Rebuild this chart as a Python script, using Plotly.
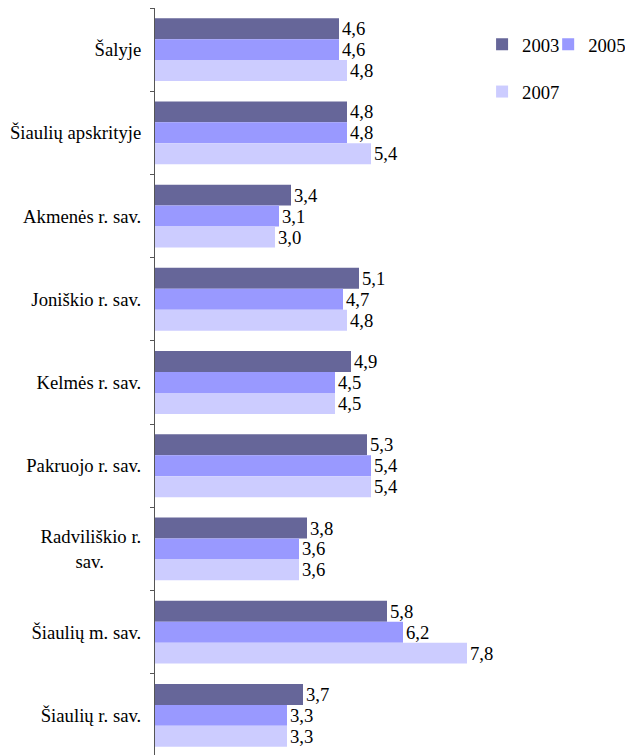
import plotly.graph_objects as go

categories = ["Šalyje", "Šiaulių apskrityje", "Akmenės r. sav.", "Joniškio r. sav.",
              "Kelmės r. sav.", "Pakruojo r. sav.", "Radviliškio r. sav.",
              "Šiaulių m. sav.", "Šiaulių r. sav."]
tick_labels = ["Šalyje", "Šiaulių apskrityje", "Akmenės r. sav.", "Joniškio r. sav.",
               "Kelmės r. sav.", "Pakruojo r. sav.",
               "Radviliškio r.<br>sav." + "\u00a0" * 8,
               "Šiaulių m. sav.", "Šiaulių r. sav."]
series_names = ["2003", "2005", "2007"]
v2003 = [4.6, 4.8, 3.4, 5.1, 4.9, 5.3, 3.8, 5.8, 3.7]
v2005 = [4.6, 4.8, 3.1, 4.7, 4.5, 5.4, 3.6, 6.2, 3.3]
v2007 = [4.8, 5.4, 3.0, 4.8, 4.5, 5.4, 3.6, 7.8, 3.3]
colors = ["#666699", "#9999FF", "#CCCCFF"]

FONT = "Liberation Serif"
FS = 18.7

fig = go.Figure()
for name, vals, col, lg in zip(series_names, [v2003, v2005, v2007], colors,
                               ["legend", "legend2", "legend3"]):
    fig.add_trace(go.Bar(
        y=categories, x=vals, name=name, orientation="h",
        marker=dict(color=col, line=dict(width=0)),
        text=[f"{v:.1f}".replace(".", ",") for v in vals],
        textposition="outside", constraintext="none",
        textfont=dict(color="black", size=FS, family=FONT),
        cliponaxis=False, legend=lg, showlegend=True,
    ))

W, H = 633, 755
ml, mt, mb = 147, 0, 6
leg_common = dict(orientation="h", xanchor="left", yanchor="middle",
                  font=dict(size=FS, family=FONT), bgcolor="rgba(0,0,0,0)")
fig.update_layout(
    width=W, height=H, showlegend=True,
    margin=dict(l=ml, r=0, t=mt, b=mb, autoexpand=False),
    barmode="group", bargap=0.245, bargroupgap=0,
    plot_bgcolor="white", paper_bgcolor="white",
    font=dict(family=FONT, size=FS, color="black"),
    xaxis=dict(range=[0, (W - ml) / 40.0], visible=False),
    yaxis=dict(autorange="reversed", tickson="boundaries", ticks="outside",
               ticklen=4, tickcolor="#555555", showline=True, linecolor="#555555",
               linewidth=1, showgrid=False, tickvals=categories, ticktext=tick_labels,
               tickfont=dict(size=FS, family=FONT), ticklabelstandoff=9),
    legend=dict(x=0.673, y=0.951, **leg_common),
    legend2=dict(x=0.809, y=0.951, **leg_common),
    legend3=dict(x=0.673, y=0.888, **leg_common),
)
fig.write_html("out.html")
